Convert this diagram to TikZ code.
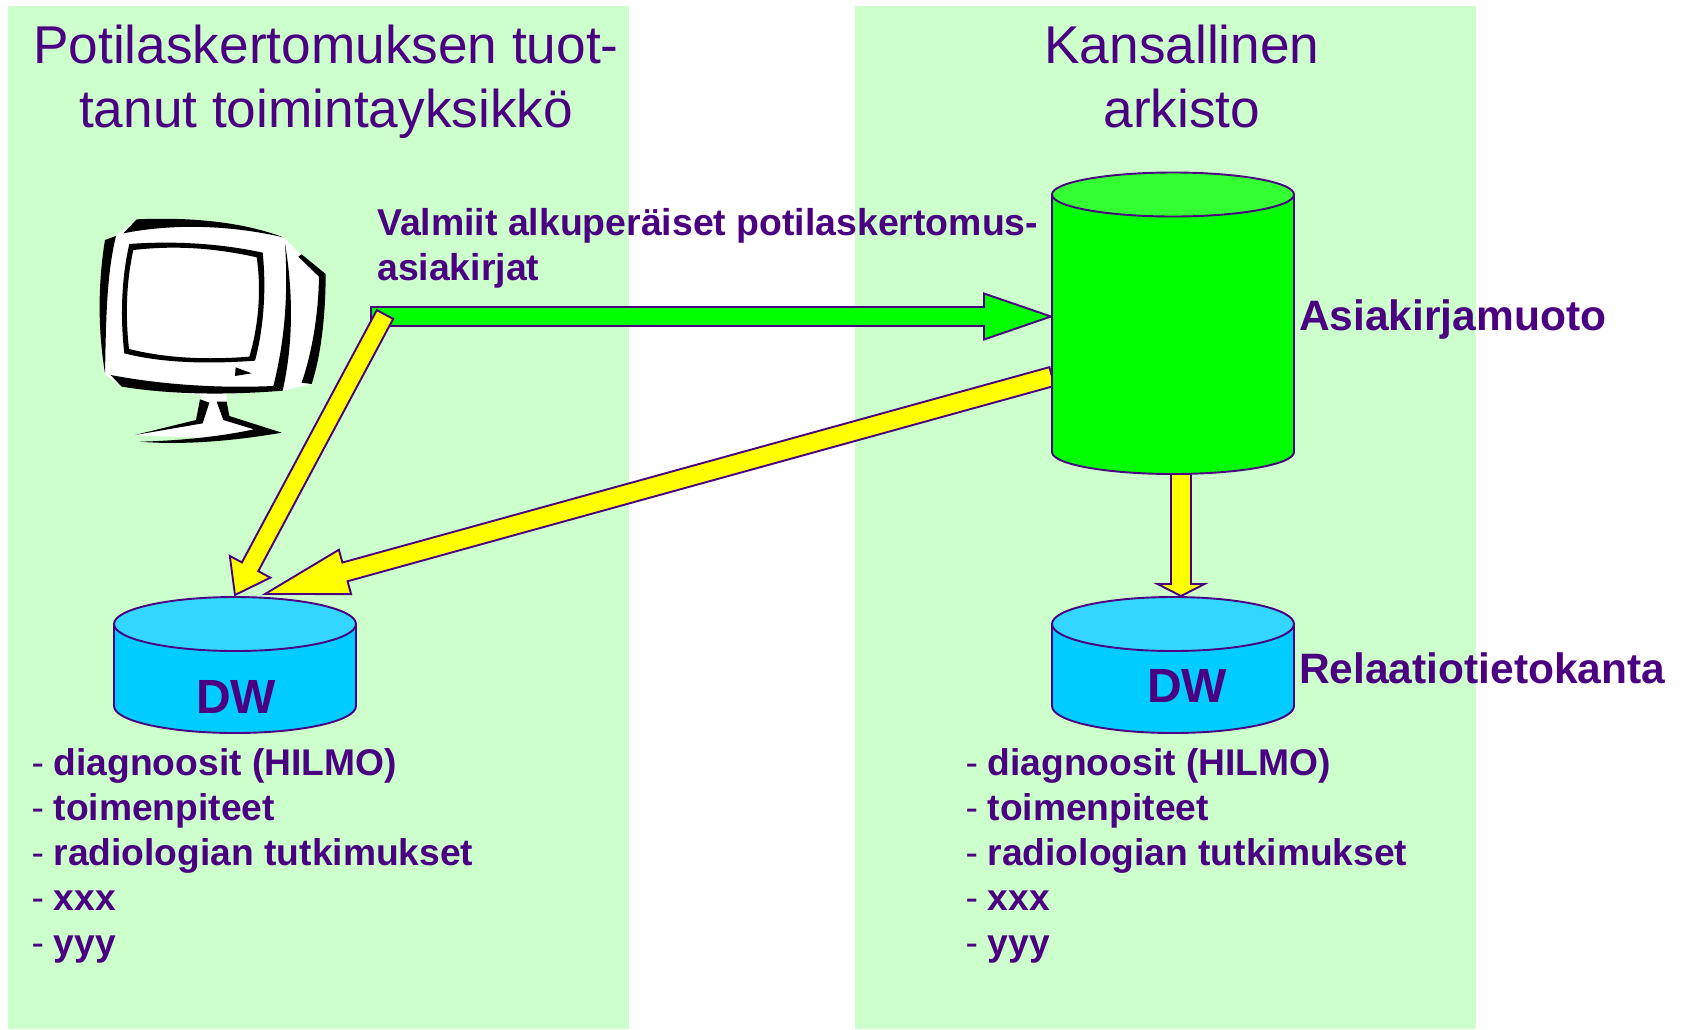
\documentclass[tikz,border=0pt]{standalone}
\usepackage{fontspec}
\setmainfont{Liberation Sans}
\usetikzlibrary{calc}
\definecolor{panel}{HTML}{CCFFCC}
\definecolor{ink}{HTML}{4B0082}
\definecolor{biggreen}{HTML}{00FF00}
\definecolor{biggreentop}{HTML}{33FF33}
\definecolor{dwbody}{HTML}{00CCFF}
\definecolor{dwtop}{HTML}{33D6FF}
\definecolor{arrowyellow}{HTML}{FFFF00}
\tikzset{
  panelbox/.style={fill=panel,draw=none},
  outline/.style={draw=ink,line width=1.9pt,line join=miter},
  heading/.style={text=ink,inner sep=0pt,align=center,font=\fontsize{53.2}{64}\selectfont},
  boldlabel/.style={text=ink,inner sep=0pt,anchor=base west,font=\fontsize{37.4}{40}\bfseries\selectfont},
  sidelabel/.style={text=ink,inner sep=0pt,anchor=base west,font=\fontsize{42.5}{46}\bfseries\selectfont},
  dwlabel/.style={text=ink,inner sep=0pt,anchor=base,font=\fontsize{48}{52}\bfseries\selectfont},
  listlabel/.style={text=ink,inner sep=0pt,anchor=north west,align=left,font=\fontsize{37.2}{45}\selectfont},
  ghost/.style={inner sep=0pt,draw=none,fill=none}
}
\newcommand{\blockarrow}[6]{%
  \coordinate (neck) at ($(#2)!#4pt!(#1)$);
  \path[outline,fill=#6] ($(#1)!#3pt!90:(#2)$) -- ($(neck)!#3pt!90:(#2)$) -- ($(neck)!#5pt!90:(#2)$) -- (#2)
    -- ($(neck)!#5pt!-90:(#2)$) -- ($(neck)!#3pt!-90:(#2)$) -- ($(#1)!#3pt!-90:(#2)$) -- cycle;
}
\newcommand{\dbcyl}[8]{% name, cx, top, bottom, ry, halfwidth, body, top
  \node[ghost,minimum width=#6*2pt,minimum height={(#4-#3)*1pt}] (#1) at (#2,{(#3+#4)/2}) {};
  \path[outline,fill=#7] (#2-#6,#3+#5) -- (#2-#6,#4-#5) arc[start angle=180,end angle=360,x radius=#6,y radius=-#5] -- (#2+#6,#3+#5) -- cycle;
  \path[outline,fill=#8] (#2,#3+#5) ellipse[x radius=#6,y radius=#5];
}
\newcommand{\itemlist}{%
  \makebox[22pt][l]{-}\textbf{diagnoosit (HILMO)}\\
  \makebox[22pt][l]{-}\textbf{toimenpiteet}\\
  \makebox[22pt][l]{-}\textbf{radiologian tutkimukset}\\
  \makebox[22pt][l]{-}\textbf{xxx}\\
  \makebox[22pt][l]{-}\textbf{yyy}}
\begin{document}
\begin{tikzpicture}[x=1pt,y=-1pt]
\useasboundingbox (0,0) rectangle (1685,1029);
\fill[white] (0,0) rectangle (1685,1029);
\fill[panel] (8,6) rectangle (629,1029);
\fill[panel] (855,6) rectangle (1476,1029);

% monitor
\node[ghost,minimum width=226pt,minimum height=227pt] (monitor) at (213,332) {};
\begin{scope}[shift={(80pt,-200pt)},x=0.33333pt,y=-0.33333pt]
  \fill[white] (72,520) .. controls (55,300) and (70,180) .. (110,105) -- (170,60) .. controls (350,50) and (500,70) .. (610,112) -- (665,165) -- (735,225) .. controls (735,350) and (720,470) .. (695,552) -- (608,572) -- (440,582) -- (440,650) -- (520,688) -- (400,715) -- (165,705) -- (350,665) -- (365,585) -- (250,575) -- (125,560) -- cycle;
  \fill[black] (130,100) -- (170,58) .. controls (350,50) and (500,70) .. (610,112) .. controls (450,75) and (280,70) .. (130,100) -- cycle;
  \fill[black] (108,108) -- (75,120) .. controls (52,260) and (55,400) .. (75,520) .. controls (78,380) and (78,230) .. (108,108) -- cycle;
  \fill[black] (92,525) -- (125,560) .. controls (280,585) and (450,585) .. (608,572) -- (580,558) .. controls (420,565) and (250,555) .. (92,525) -- cycle;
  \fill[black,even odd rule] (148,132) .. controls (280,122) and (420,130) .. (548,158) .. controls (560,270) and (550,390) .. (525,482) .. controls (390,492) and (250,490) .. (133,460) .. controls (120,350) and (125,230) .. (148,132) -- cycle
    (160,150) .. controls (290,135) and (410,145) .. (530,172) .. controls (545,270) and (535,380) .. (508,470) .. controls (380,480) and (260,475) .. (147,447) .. controls (135,340) and (140,240) .. (160,150) -- cycle;
  \fill[black] (615,130) .. controls (640,280) and (640,430) .. (608,572) -- (580,558) .. controls (615,420) and (625,280) .. (615,130) -- cycle;
  \fill[black] (655,170) -- (665,163) -- (737,222) .. controls (737,350) and (722,470) .. (695,552) -- (665,548) .. controls (695,460) and (715,350) .. (717,230) -- cycle;
  \fill[black] (467,502) -- (515,520) -- (465,528) -- cycle;
  \fill[black] (360,598) -- (388,608) -- (368,670) -- (165,705) -- (348,660) -- cycle;
  \fill[black] (410,605) -- (440,605) -- (448,648) -- (605,698) .. controls (450,725) and (300,735) .. (180,725) .. controls (300,722) and (420,710) .. (522,688) -- (430,660) -- cycle;
\end{scope}

\coordinate (greenstart) at (371,316.5);
\coordinate (greentip) at (1051,316.5);
\coordinate (screenleg) at (385,314.5);
\coordinate (leftdwtip) at (235,595);
\coordinate (archivefoot) at (1052,376.5);
\coordinate (leftdwtiptwo) at (265,594);
\coordinate (archivedown) at (1181,470);
\coordinate (rightdwtip) at (1181,596);

\blockarrow{greenstart}{greentip}{9.5}{67}{23}{biggreen}
\blockarrow{screenleg}{leftdwtip}{9.3}{32}{23}{arrowyellow}
\blockarrow{archivefoot}{leftdwtiptwo}{9.7}{83}{23}{arrowyellow}
\blockarrow{archivedown}{rightdwtip}{10}{12}{23.5}{arrowyellow}

\dbcyl{archive}{1173}{172.5}{474}{22}{121}{biggreen}{biggreentop}
\dbcyl{leftdw}{235}{597}{733}{27}{121}{dwbody}{dwtop}
\dbcyl{rightdw}{1173}{597}{733}{27}{121}{dwbody}{dwtop}

% texts
\node[heading,anchor=north] (h1) at (326,25) {Potilaskertomuksen tuot-\\tanut toimintayksikkö};
\node[heading,anchor=north] (h2) at (1182,25) {Kansallinen\\arkisto};
\node[boldlabel] (v1) at (377,235) {Valmiit alkuperäiset potilaskertomus-};
\node[boldlabel] (v2) at (377,280) {asiakirjat};
\node[sidelabel] (a1) at (1299,330) {Asiakirjamuoto};
\node[sidelabel] (r1) at (1299,683) {Relaatiotietokanta};
\node[dwlabel] (d1) at (236,713) {DW};
\node[dwlabel] (d2) at (1187,702) {DW};
\node[listlabel] (l1) at (31.5,748) {\itemlist};
\node[listlabel] (l2) at (965.5,748) {\itemlist};
\end{tikzpicture}
\end{document}
